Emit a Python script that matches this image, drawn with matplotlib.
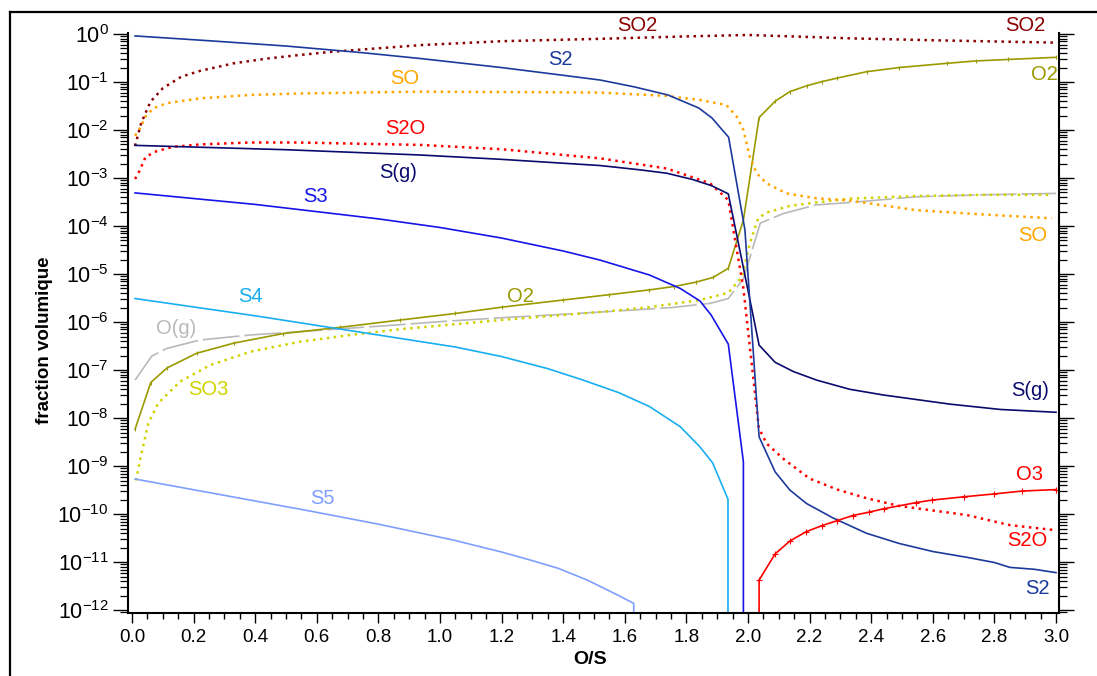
import matplotlib
matplotlib.use("Agg")
import matplotlib.pyplot as plt
import numpy as np
from matplotlib.ticker import LogLocator, FixedLocator, MultipleLocator, FuncFormatter, NullFormatter
from matplotlib.lines import Line2D

plt.rcParams['font.family'] = ['Liberation Sans', 'DejaVu Sans']
plt.rcParams['mathtext.default'] = 'regular'

# ---------------- data ----------------
so2_x = [0.01, 0.03, 0.06, 0.10, 0.16, 0.22, 0.33, 0.44, 0.54, 0.65, 0.94, 1.20, 1.52, 1.80, 2.00, 2.17, 2.33, 2.60, 3.00]
so2_y = [4.68e-3, 1.41e-2, 3.89e-2, 7.41e-2, 0.129, 0.170, 0.245, 0.309, 0.363, 0.427, 0.589, 0.708, 0.794, 0.891, 0.955, 0.879, 0.813, 0.741, 0.661]

s2_x = [0.01, 0.25, 0.5, 0.75, 0.935, 1.2, 1.4, 1.52, 1.63, 1.74, 1.84, 1.883, 1.937, 1.99, 2.036, 2.088, 2.136, 2.19, 2.276, 2.385, 2.49, 2.6, 2.71, 2.80, 2.85, 2.93, 3.0]
s2_y = [0.912, 0.724, 0.562, 0.407, 0.309, 0.200, 0.138, 0.110, 0.0794, 0.0537, 0.0288, 0.0178, 7.08e-3, 8.3e-5, 4.07e-9, 7.59e-10, 3.16e-10, 1.66e-10, 8.3e-11, 3.98e-11, 2.45e-11, 1.66e-11, 1.26e-11, 9.8e-12, 7.76e-12, 7.08e-12, 6.03e-12]

sg_x = [0.01, 0.5, 0.935, 1.2, 1.52, 1.65, 1.736, 1.82, 1.882, 1.936, 1.986, 2.036, 2.088, 2.147, 2.223, 2.33, 2.44, 2.656, 2.82, 3.0]
sg_y = [4.79e-3, 3.89e-3, 3.02e-3, 2.45e-3, 1.82e-3, 1.48e-3, 1.26e-3, 9.33e-4, 6.92e-4, 4.68e-4, 1.26e-5, 3.31e-7, 1.45e-7, 9.33e-8, 6.17e-8, 3.98e-8, 3.02e-8, 1.95e-8, 1.51e-8, 1.32e-8]

s3_x = [0.01, 0.4, 0.8, 1.0, 1.2, 1.4, 1.52, 1.68, 1.78, 1.844, 1.88, 1.936, 1.985, 1.985]
s3_y = [4.9e-4, 2.82e-4, 1.41e-4, 9.33e-5, 5.62e-5, 3.02e-5, 1.95e-5, 9.55e-6, 5.01e-6, 2.75e-6, 1.41e-6, 3.47e-7, 1.23e-9, 0.0]

s4_x = [0.01, 0.4, 0.87, 1.05, 1.2, 1.35, 1.465, 1.58, 1.68, 1.78, 1.844, 1.885, 1.935, 1.935]
s4_y = [3.09e-6, 1.35e-6, 4.57e-7, 3.02e-7, 1.91e-7, 1.07e-7, 6.17e-8, 3.39e-8, 1.74e-8, 6.61e-9, 2.51e-9, 1.17e-9, 2.04e-10, 0.0]

s5_x = [0.01, 0.565, 0.8, 1.043, 1.2, 1.3, 1.384, 1.48, 1.578, 1.629, 1.629]
s5_y = [5.37e-10, 1.20e-10, 6.17e-11, 2.88e-11, 1.62e-11, 1.07e-11, 7.41e-12, 4.17e-12, 2.04e-12, 1.38e-12, 0.0]

o3_x = [2.036, 2.036, 2.088, 2.136, 2.188, 2.24, 2.288, 2.34, 2.394, 2.44, 2.547, 2.596, 2.70, 2.80, 2.89, 3.0]
o3_y = [0.0, 4.22e-12, 1.48e-11, 2.75e-11, 4.27e-11, 5.75e-11, 7.24e-11, 9.33e-11, 1.10e-10, 1.29e-10, 1.74e-10, 1.95e-10, 2.29e-10, 2.63e-10, 3.02e-10, 3.24e-10]

s2o_x = [0.01, 0.026, 0.044, 0.08, 0.134, 0.22, 0.383, 0.535, 0.935, 1.2, 1.52, 1.736, 1.877, 1.936, 1.985, 2.035, 2.06, 2.12, 2.2, 2.29, 2.385, 2.49, 2.71, 2.85, 2.99]
s2o_y = [9.55e-4, 1.48e-3, 2.75e-3, 3.63e-3, 4.47e-3, 5.01e-3, 5.50e-3, 5.50e-3, 4.90e-3, 3.98e-3, 2.57e-3, 1.58e-3, 7.76e-4, 3.47e-4, 5.01e-6, 6.31e-9, 2.95e-9, 1.33e-9, 5.50e-10, 3.24e-10, 2.14e-10, 1.48e-10, 9.55e-11, 5.89e-11, 4.68e-11]

so_x = [0.01, 0.026, 0.044, 0.069, 0.113, 0.22, 0.383, 0.535, 0.935, 1.52, 1.736, 1.844, 1.93, 1.963, 1.985, 2.006, 2.028, 2.06, 2.125, 2.22, 2.33, 2.547, 2.764, 2.986]
so_y = [7.59e-3, 1.10e-2, 1.91e-2, 2.82e-2, 3.63e-2, 4.57e-2, 5.37e-2, 5.75e-2, 6.31e-2, 6.03e-2, 5.13e-2, 4.22e-2, 3.31e-2, 1.91e-2, 1.0e-2, 2.75e-3, 1.26e-3, 7.76e-4, 4.79e-4, 3.80e-4, 3.39e-4, 2.14e-4, 1.74e-4, 1.45e-4]

o2_x = [0.01, 0.061, 0.113, 0.21, 0.33, 0.49, 0.675, 0.87, 1.05, 1.2, 1.4, 1.55, 1.68, 1.76, 1.83, 1.887, 1.936, 1.985, 2.036, 2.088, 2.136, 2.19, 2.24, 2.288, 2.385, 2.49, 2.645, 2.74, 2.845, 3.0]
o2_y = [5.89e-9, 5.50e-8, 1.10e-7, 2.24e-7, 3.63e-7, 5.75e-7, 7.76e-7, 1.10e-6, 1.51e-6, 2.04e-6, 2.88e-6, 3.72e-6, 4.68e-6, 5.50e-6, 6.76e-6, 8.51e-6, 1.32e-5, 1.33e-4, 1.82e-2, 3.98e-2, 6.31e-2, 8.32e-2, 0.102, 0.120, 0.164, 0.200, 0.245, 0.275, 0.295, 0.327]

so3_x = [0.013, 0.026, 0.053, 0.085, 0.156, 0.253, 0.383, 0.545, 0.708, 0.87, 1.195, 1.52, 1.68, 1.844, 1.936, 1.98, 2.006, 2.033, 2.06, 2.136, 2.22, 2.33, 2.547, 2.76, 2.986]
so3_y = [5.01e-10, 1.33e-9, 7.76e-9, 2.04e-8, 5.75e-8, 1.26e-7, 2.40e-7, 3.89e-7, 5.37e-7, 7.08e-7, 1.10e-6, 1.62e-6, 2.04e-6, 2.88e-6, 4.07e-6, 8.71e-6, 4.37e-5, 1.45e-4, 1.91e-4, 2.63e-4, 3.09e-4, 3.72e-4, 4.22e-4, 4.47e-4, 4.47e-4]

og_x = [0.01, 0.064, 0.113, 0.22, 0.383, 0.545, 0.86, 1.0, 1.2, 1.4, 1.6, 1.75, 1.877, 1.936, 1.985, 2.04, 2.115, 2.22, 2.33, 2.547, 2.76, 3.0]
og_y = [6.17e-8, 1.95e-7, 2.82e-7, 4.22e-7, 5.37e-7, 6.31e-7, 8.71e-7, 1.02e-6, 1.23e-6, 1.45e-6, 1.74e-6, 2.00e-6, 2.45e-6, 3.09e-6, 7.94e-6, 1.15e-4, 1.82e-4, 2.75e-4, 3.09e-4, 4.07e-4, 4.47e-4, 4.79e-4]

x_ticks = [0.0, 0.2, 0.4, 0.6, 0.8, 1.0, 1.2, 1.4, 1.6, 1.8, 2.0, 2.2, 2.4, 2.6, 2.8, 3.0]
y_exponents = [0, -1, -2, -3, -4, -5, -6, -7, -8, -9, -10, -11, -12]

# ---------------- figure ----------------
W, H = 1097, 676
fig = plt.figure(figsize=(W / 100, H / 100), dpi=100)
ax = fig.add_axes([128 / W, 1 - 612.5 / H, (1059 - 128) / W, (612.5 - 33) / H])
ax.set_yscale('log', nonpositive='clip')

dot = (0, (1, 1.8))
C = dict(SO2='#8B0000', S2='#1C3A9C', Sg='#0A0A6E', S3='#1515E8', S4='#19AEF0',
         S5='#7F9FFF', O3='#FF0000', S2O='#FF0000', SO='#FFA500', O2='#9A9A00',
         SO3='#D2D200', Og='#B9B9B9')

lw = 1.2
ax.plot(og_x, og_y, color=C['Og'], lw=lw, dashes=(22, 3))
ax.plot(so3_x, so3_y, color=C['SO3'], lw=1.8, linestyle=dot)
ax.plot(o2_x, o2_y, color=C['O2'], lw=lw, marker='|', ms=3, mew=0.8)
ax.plot(so_x, so_y, color=C['SO'], lw=1.8, linestyle=dot)
ax.plot(so2_x, so2_y, color=C['SO2'], lw=1.8, linestyle=dot)
ax.plot(s5_x, s5_y, color=C['S5'], lw=lw)
ax.plot(s4_x, s4_y, color=C['S4'], lw=lw)
ax.plot(s3_x, s3_y, color=C['S3'], lw=lw)
ax.plot(s2o_x, s2o_y, color=C['S2O'], lw=1.8, linestyle=dot)
ax.plot(sg_x, sg_y, color=C['Sg'], lw=lw)
ax.plot(s2_x, s2_y, color=C['S2'], lw=lw)
ax.plot(o3_x, o3_y, color=C['O3'], lw=lw, marker='+', ms=4, mew=0.8)

ax.set_xlim(-0.013, 3.0097)
ax.set_ylim(10 ** -12.05, 10 ** 0.021)

# ticks
ax.xaxis.set_major_locator(FixedLocator(x_ticks))
ax.xaxis.set_minor_locator(MultipleLocator(0.05))
ax.xaxis.set_major_formatter(FuncFormatter(lambda v, p: f'{v:.1f}'))
ax.yaxis.set_major_locator(FixedLocator([10.0 ** e for e in y_exponents]))
ax.yaxis.set_minor_locator(LogLocator(base=10, subs=np.arange(2, 10), numticks=50))
ax.yaxis.set_major_formatter(FuncFormatter(lambda v, p: r'$10^{%d}$' % int(round(np.log10(v)))))
ax.yaxis.set_minor_formatter(NullFormatter())

ax.tick_params(axis='x', which='major', direction='out', length=7, width=1.0, labelsize=13.5, pad=5)
ax.tick_params(axis='x', which='minor', direction='out', length=4, width=1.0)
ax.tick_params(axis='y', which='major', direction='out', length=11, width=1.0, labelsize=15.5, pad=3,
               right=True, left=True)
ax.tick_params(axis='y', which='minor', direction='out', length=5.5, width=0.9, right=True, left=True)

for s in ['left', 'bottom', 'right']:
    ax.spines[s].set_linewidth(1.5)
ax.spines['top'].set_visible(False)

# axis titles
fig.text(45 / W, 1 - 340 / H, 'fraction volumique', rotation=90, ha='center', va='center',
         fontsize=13.5, fontweight='bold')
fig.text(590 / W, 1 - 660 / H, 'O/S', ha='center', va='center', fontsize=14, fontweight='bold')

# curve labels
labels = [
    ('SO2', 1.64, 10 ** 0.167, C['SO2']), ('SO2', 2.90, 10 ** 0.167, C['SO2']),
    ('S2', 1.39, 10 ** -0.54, C['S2']), ('SO', 0.886, 10 ** -0.92, C['SO']),
    ('O2', 2.964, 10 ** -0.85, C['O2']), ('S2O', 0.886, 10 ** -1.96, C['S2O']),
    ('S(g)', 0.864, 10 ** -2.875, C['Sg']), ('S3', 0.597, 10 ** -3.375, C['S3']),
    ('SO', 2.925, 10 ** -4.19, C['SO']), ('S4', 0.383, 10 ** -5.46, C['S4']),
    ('O2', 1.26, 10 ** -5.46, C['O2']), ('O(g)', 0.143, 10 ** -6.125, C['Og']),
    ('SO3', 0.247, 10 ** -7.40, C['SO3']), ('S(g)', 2.915, 10 ** -7.42, C['Sg']),
    ('O3', 2.915, 10 ** -9.17, C['O3']), ('S5', 0.617, 10 ** -9.67, C['S5']),
    ('S2O', 2.906, 10 ** -10.56, C['S2O']), ('S2', 2.94, 10 ** -11.54, C['S2']),
]
for t, x, y, c in labels:
    ax.text(x, y, t, color=c, fontsize=14.5, ha='center', va='center', clip_on=False)

# outer frame (top and left edges)
fig.add_artist(Line2D([10 / W, 10 / W], [0, 1 - 12 / H], transform=fig.transFigure, color='black', lw=1.6))
fig.add_artist(Line2D([10 / W, 1], [1 - 12 / H, 1 - 12 / H], transform=fig.transFigure, color='black', lw=1.6))

fig.savefig('out.png', dpi=100)
